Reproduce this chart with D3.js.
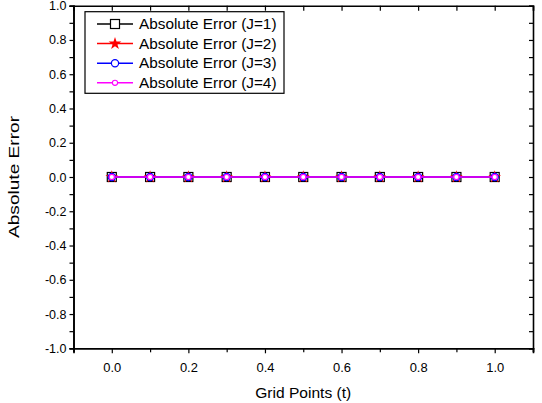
<!DOCTYPE html>
<html><head><meta charset="utf-8">
<script src="https://cdn.jsdelivr.net/npm/d3@7"></script>
<style>body{margin:0;background:#fff}svg{display:block}text{font-family:"Liberation Sans",Arial,sans-serif}</style>
</head><body><svg id="c" width="542" height="403"></svg>
<script>
const gridPoints = [0.0, 0.1, 0.2, 0.3, 0.4, 0.5, 0.6, 0.7, 0.8, 0.9, 1.0];
const errJ1 = [0, 0, 0, 0, 0, 0, 0, 0, 0, 0, 0];
const errJ2 = [0, 0, 0, 0, 0, 0, 0, 0, 0, 0, 0];
const errJ3 = [0, 0, 0, 0, 0, 0, 0, 0, 0, 0, 0];
const errJ4 = [0, 0, 0, 0, 0, 0, 0, 0, 0, 0, 0];
const seriesNames = ["Absolute Error (J=1)", "Absolute Error (J=2)", "Absolute Error (J=3)", "Absolute Error (J=4)"];
const xTicks = [0.0, 0.2, 0.4, 0.6, 0.8, 1.0];
const yTicks = [-1.0, -0.8, -0.6, -0.4, -0.2, 0.0, 0.2, 0.4, 0.6, 0.8, 1.0];
const xLabel = "Grid Points (t)";
const yLabel = "Absolute Error";

const series = [
  {name: seriesNames[0], values: errJ1, color: "#000000", marker: "square"},
  {name: seriesNames[1], values: errJ2, color: "#ff0000", marker: "star"},
  {name: seriesNames[2], values: errJ3, color: "#0000ff", marker: "circle"},
  {name: seriesNames[3], values: errJ4, color: "#ff00ff", marker: "smallcircle"}
];

const svg = d3.select("#c");
const L = 73.5, R = 533, T = 5.7, B = 348.3;
const x = d3.scaleLinear().domain([-0.1, 1.1]).range([L, R]);
const y = d3.scaleLinear().domain([-1.0, 1.0]).range([B, T]);
const fmt = v => d3.format(".1f")(v).replace("\u2212", "-");
const minorX = d3.range(-0.1, 1.1001, 0.1).map(v => +v.toFixed(2));
const minorY = d3.range(-1.0, 1.0001, 0.1).map(v => +v.toFixed(2));

const gB = svg.append("g").attr("transform", `translate(0,${B})`)
  .call(d3.axisBottom(x).tickValues(xTicks).tickFormat(fmt).tickSize(5).tickPadding(10));
gB.append("g").call(d3.axisBottom(x).tickValues(minorX.filter(v => !xTicks.some(t => Math.abs(t - v) < 1e-6))).tickFormat("").tickSize(4));
svg.append("g").attr("transform", `translate(0,${T})`)
  .call(d3.axisTop(x).tickValues(minorX).tickFormat("").tickSize(-5));
const gL = svg.append("g").attr("transform", `translate(${L},0)`)
  .call(d3.axisLeft(y).tickValues(yTicks).tickFormat(fmt).tickSize(4).tickPadding(3));
gL.append("g").call(d3.axisLeft(y).tickValues(minorY.filter(v => !yTicks.some(t => Math.abs(t - v) < 1e-6))).tickFormat("").tickSize(4));
svg.append("g").attr("transform", `translate(${R},0)`)
  .call(d3.axisRight(y).tickValues(minorY).tickFormat("").tickSize(-4));

svg.selectAll(".domain").attr("stroke", "#000").attr("stroke-width", 1.6);
svg.selectAll(".tick line").attr("stroke", "#000").attr("stroke-width", 1.2);
svg.selectAll(".tick text").attr("font-size", 12.5).attr("fill", "#000")
  .attr("font-family", "'Liberation Sans', Arial, sans-serif");
gB.selectAll(".tick text").attr("textLength", 18).attr("lengthAdjust", "spacingAndGlyphs");

svg.append("text").attr("x", (L + R) / 2).attr("y", 398).attr("text-anchor", "middle")
  .attr("font-size", 15).attr("textLength", 96).attr("lengthAdjust", "spacingAndGlyphs").text(xLabel);
svg.append("text").attr("transform", `translate(19,${(T + B) / 2}) rotate(-90)`).attr("text-anchor", "middle")
  .attr("font-size", 15).attr("textLength", 122).attr("lengthAdjust", "spacingAndGlyphs").text(yLabel);

function drawMarker(g, type, color, cx, cy) {
  if (type === "square") {
    g.append("rect").attr("x", cx - 4.5).attr("y", cy - 4.5).attr("width", 9).attr("height", 9)
      .attr("fill", "#fff").attr("stroke", color).attr("stroke-width", 1.2);
  } else if (type === "star") {
    g.append("path").attr("transform", `translate(${cx},${cy})`)
      .attr("d", d3.symbol().type(d3.symbolStar).size(50)()).attr("fill", color);
  } else if (type === "circle") {
    g.append("circle").attr("cx", cx).attr("cy", cy).attr("r", 3.6)
      .attr("fill", "#fff").attr("stroke", color).attr("stroke-width", 1.2);
  } else {
    g.append("circle").attr("cx", cx).attr("cy", cy).attr("r", 2.6)
      .attr("fill", "#fff").attr("stroke", color).attr("stroke-width", 1.1);
  }
}

const line = d3.line().x((d, i) => x(gridPoints[i])).y(d => y(d));
series.forEach(s => {
  const g = svg.append("g");
  g.append("path").datum(s.values).attr("d", line).attr("fill", "none")
    .attr("stroke", s.color).attr("stroke-width", 1.5);
  s.values.forEach((v, i) => drawMarker(g, s.marker, s.color, x(gridPoints[i]), y(v)));
});

const lg = svg.append("g");
lg.append("rect").attr("x", 85).attr("y", 11.7).attr("width", 199).attr("height", 81.6)
  .attr("fill", "#fff").attr("stroke", "#000").attr("stroke-width", 1.2);
series.forEach((s, i) => {
  const cy = 24 + i * 19.6;
  lg.append("line").attr("x1", 97).attr("x2", 133).attr("y1", cy).attr("y2", cy)
    .attr("stroke", s.color).attr("stroke-width", 1.5);
  drawMarker(lg, s.marker, s.color, 115, cy);
  lg.append("text").attr("x", 139).attr("y", cy + 5).attr("font-size", 14)
    .attr("textLength", 137.5).attr("lengthAdjust", "spacingAndGlyphs").text(s.name);
});
</script></body></html>
